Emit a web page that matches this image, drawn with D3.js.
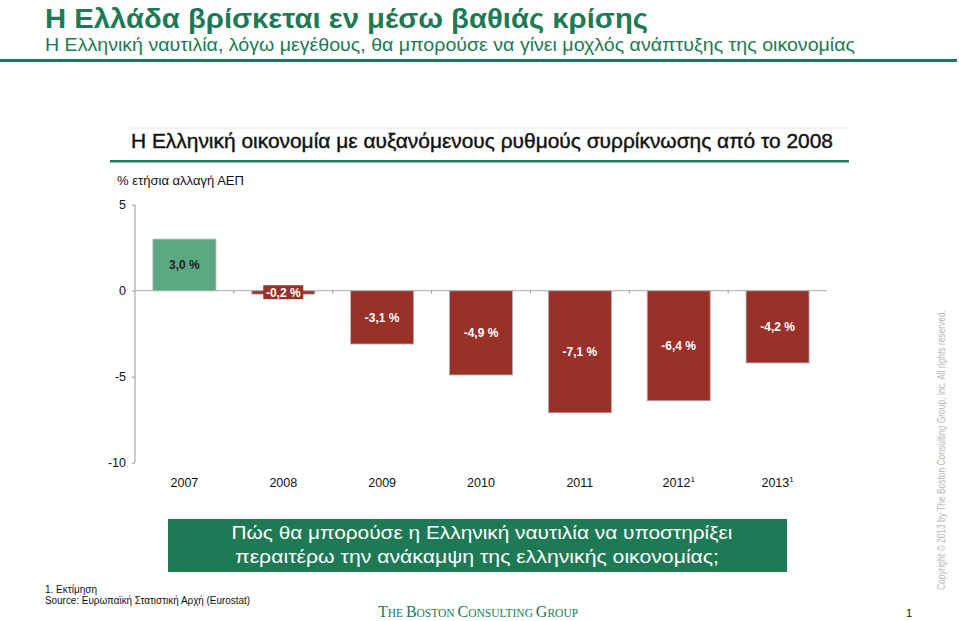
<!DOCTYPE html>
<html><head><meta charset="utf-8">
<script src="https://cdn.jsdelivr.net/npm/d3@7"></script>
<style>
html,body{margin:0;padding:0;background:#fff;}
svg{display:block;font-family:Arial,"Liberation Sans",sans-serif;}
</style></head><body>
<svg id="c" width="959" height="621"></svg>
<script>
const categories = ["2007","2008","2009","2010","2011","2012","2013"];
const superscripts = ["","","","","","1","1"];
const values = [3.0,-0.2,-3.1,-4.9,-7.1,-6.4,-4.2];
const valueLabels = ["3,0 %","-0,2 %","-3,1 %","-4,9 %","-7,1 %","-6,4 %","-4,2 %"];
const yTicks = [5,0,-5,-10];

const svg = d3.select("#c");
const green = "#1d7a55";
const red = "#993128";

// Title
svg.append("text").attr("x",45).attr("y",28).attr("fill",green)
  .attr("font-size",28).attr("font-weight","bold")
  .attr("textLength",603).attr("lengthAdjust","spacingAndGlyphs")
  .text("Η Ελλάδα βρίσκεται εν μέσω βαθιάς κρίσης");
svg.append("text").attr("x",45).attr("y",51).attr("fill",green)
  .attr("font-size",18).attr("textLength",810).attr("lengthAdjust","spacingAndGlyphs")
  .text("Η Ελληνική ναυτιλία, λόγω μεγέθους, θα μπορούσε να γίνει μοχλός ανάπτυξης της οικονομίας");
svg.append("rect").attr("x",0).attr("y",59).attr("width",957).attr("height",3).attr("fill",green);

// chart header
svg.append("line").attr("x1",130).attr("x2",849).attr("y1",128).attr("y2",128).attr("stroke","#e4e4e4");
svg.append("text").attr("x",131).attr("y",148).attr("fill","#111")
  .attr("stroke","#111").attr("stroke-width",0.4)
  .attr("font-size",20).attr("textLength",702).attr("lengthAdjust","spacingAndGlyphs")
  .text("Η Ελληνική οικονομία με αυξανόμενους ρυθμούς συρρίκνωσης από το 2008");
svg.append("rect").attr("x",110).attr("y",160).attr("width",739).attr("height",2.5).attr("fill",green);
svg.append("text").attr("x",117).attr("y",185).attr("fill","#111").attr("font-size",13.5)
  .attr("textLength",127).attr("lengthAdjust","spacingAndGlyphs")
  .text("% ετήσια αλλαγή ΑΕΠ");

// scales
const y = d3.scaleLinear().domain([-10,5]).range([462.7,204.7]);
const x = d3.scaleBand().domain(categories).range([135,827]).paddingInner(0.363).paddingOuter(0.1815);

// y axis
const yAxis = d3.axisLeft(y).tickValues(yTicks).tickSize(3).tickFormat(d=>String(d));
const ga = svg.append("g").attr("transform","translate(135,0)").call(yAxis);
ga.select(".domain").attr("stroke","#999").attr("d","M0,"+y(5)+"V"+y(-10));
ga.selectAll(".tick line").attr("stroke","#999");
ga.selectAll(".tick text").attr("font-size",12.5).attr("fill","#111").attr("x",-9).attr("font-family","Arial,'Liberation Sans',sans-serif");

// bars
svg.selectAll("rect.bar").data(values).enter().append("rect")
  .attr("class","bar")
  .attr("x",(d,i)=>x(categories[i]))
  .attr("width",x.bandwidth())
  .attr("y",d=>y(Math.max(0,d)))
  .attr("height",d=>Math.abs(y(d)-y(0)))
  .attr("fill",d=>d>=0?"#5aa982":red)
  .attr("stroke","#b0b0b0").attr("stroke-width",0.8);

// zero line with ticks at band boundaries
svg.append("line").attr("x1",135).attr("x2",827).attr("y1",y(0)).attr("y2",y(0)).attr("stroke","#aaa");
const bounds = categories.slice(1).map(c=>x(c)-x.step()*x.paddingInner()/2);
svg.selectAll("line.bt").data(bounds).enter().append("line")
  .attr("x1",d=>d).attr("x2",d=>d).attr("y1",y(0)).attr("y2",y(0)+3).attr("stroke","#999");

// value labels
values.forEach((v,i)=>{
  const cx = x(categories[i])+x.bandwidth()/2;
  let cy = (y(0)+y(v))/2;
  if (Math.abs(v) < 1) {
    cy = y(0)+2;
    svg.append("rect").attr("x",cx-20).attr("y",cy-7.5).attr("width",40).attr("height",14).attr("fill",red);
  }
  svg.append("text").attr("x",cx).attr("y",cy).attr("dy","0.35em").attr("text-anchor","middle")
    .attr("font-size",12).attr("font-weight","bold").attr("fill",v>=0?"#222":"#fff")
    .text(valueLabels[i]);
});

// x labels
categories.forEach((c,i)=>{
  const t = svg.append("text").attr("x",x(c)+x.bandwidth()/2).attr("y",487).attr("text-anchor","middle")
    .attr("font-size",12.5).attr("fill","#111");
  t.append("tspan").text(c);
  if (superscripts[i]) t.append("tspan").attr("font-size",8).attr("dy",-5).text(superscripts[i]);
});

// green box
svg.append("rect").attr("x",168).attr("y",519).attr("width",619).attr("height",53).attr("fill",green);
svg.append("text").attr("x",482).attr("y",539).attr("text-anchor","middle").attr("fill","#fff")
  .attr("font-size",18.5).attr("textLength",501).attr("lengthAdjust","spacingAndGlyphs")
  .text("Πώς θα μπορούσε η Ελληνική ναυτιλία να υποστηρίξει");
svg.append("text").attr("x",477).attr("y",563).attr("text-anchor","middle").attr("fill","#fff")
  .attr("font-size",18.5).attr("textLength",484).attr("lengthAdjust","spacingAndGlyphs")
  .text("περαιτέρω την ανάκαμψη της ελληνικής οικονομίας;");

// footnotes
svg.append("text").attr("x",45).attr("y",593).attr("font-size",10).attr("fill","#111").text("1. Εκτίμηση");
svg.append("text").attr("x",45).attr("y",604).attr("font-size",10).attr("fill","#111")
  .attr("textLength",205).attr("lengthAdjust","spacingAndGlyphs")
  .text("Source: Ευρωπαϊκή Στατιστική Αρχή (Eurostat)");

// BCG logo text
const logo = svg.append("text").attr("x",478).attr("y",617).attr("text-anchor","middle").attr("fill",green)
  .attr("font-family","'Liberation Serif','DejaVu Serif',serif").attr("font-size",16);
[["T",16],["HE ",11.5],["B",16],["OSTON ",11.5],["C",16],["ONSULTING ",11.5],["G",16],["ROUP",11.5]].forEach(p=>{
  logo.append("tspan").attr("font-size",p[1]).text(p[0]);
});
svg.append("text").attr("x",906).attr("y",617).attr("font-size",11).attr("fill","#111").text("1");

// copyright vertical
svg.append("text").attr("transform","translate(945,590) rotate(-90)").attr("font-size",10.5)
  .attr("fill","#b5b5b5").attr("textLength",280).attr("lengthAdjust","spacingAndGlyphs")
  .text("Copyright © 2013 by The Boston Consulting Group, Inc. All rights reserved.");
</script>
</body></html>
